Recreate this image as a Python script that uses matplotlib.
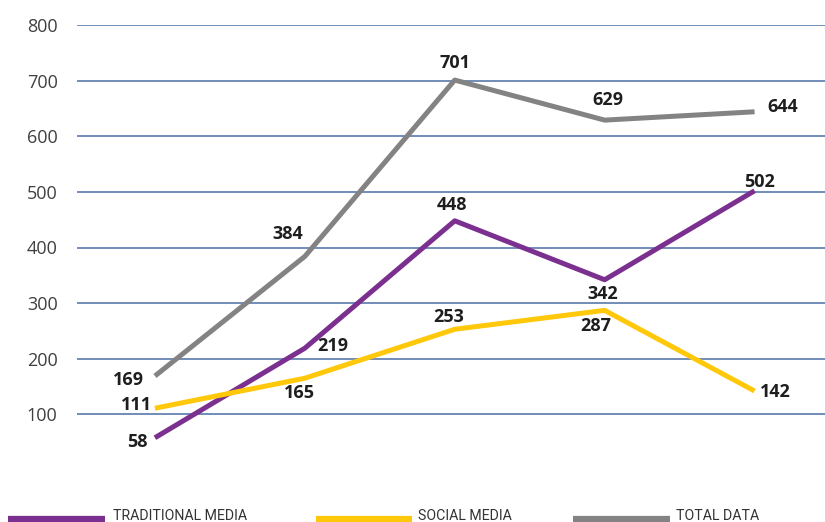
import numpy as np
import matplotlib.pyplot as plt
from matplotlib.lines import Line2D

categories = ['1', '2', '3', '4', '5']
traditional = [58, 219, 448, 342, 502]
social = [111, 165, 253, 287, 142]
total = [169, 384, 701, 629, 644]
yticks = [100, 200, 300, 400, 500, 600, 700, 800]

PURPLE = '#7b2f8f'
YELLOW = '#ffc80a'
GREY = '#838383'

# label offsets in pixels (dx, dy) per point
off_total = [(-27, -4), (-17, 22), (0, 17), (3, 20), (28, 5)]
off_trad = [(-18, -4), (28, 2), (-3, 16), (-2, -14), (5, 9)]
off_social = [(-18, 3), (-5, -15), (-6, 12), (-9, -16), (21, -1)]

fig = plt.figure(figsize=(8.25, 5.22), dpi=100)
ax = fig.add_axes([77 / 825, 1 - 470 / 522, 1 - 77 / 825, 445 / 522])

x = np.arange(len(categories))
series = [(total, GREY, off_total), (traditional, PURPLE, off_trad), (social, YELLOW, off_social)]
for vals, col, offs in series:
    ax.plot(x, vals, color=col, lw=3.6, solid_capstyle='butt', zorder=3)
for vals, col, offs in series:
    for xi, v, (dx, dy) in zip(x, vals, offs):
        ax.annotate(str(v), (xi, v), xytext=(dx, dy), textcoords='offset pixels',
                    ha='center', va='center', fontsize=13, fontweight='bold',
                    color='#1e1e1e', family='Open Sans', annotation_clip=False, zorder=5)

ax.set_xlim(-0.52, 4.47)
ax.set_ylim(0, 800)
ax.set_yticks(yticks)
ax.set_xticks([])
ax.yaxis.grid(True, color='#4a6ea6', lw=1.1)
ax.set_axisbelow(True)
for s in ax.spines.values():
    s.set_visible(False)
ax.tick_params(axis='y', length=0, pad=14, labelsize=13, labelcolor='#404040')
for lab in ax.get_yticklabels():
    lab.set_family('Open Sans')

# legend along the bottom
leg = [('TRADITIONAL MEDIA', PURPLE, 8, 105, 113),
       ('SOCIAL MEDIA', YELLOW, 316, 412, 418),
       ('TOTAL DATA', GREY, 573, 670, 676)]
for name, col, x0, x1, xt in leg:
    fig.add_artist(Line2D([x0 / 825, x1 / 825], [1 - 519 / 522] * 2, color=col, lw=4.5,
                          solid_capstyle='butt', transform=fig.transFigure))
    fig.text(xt / 825, 1 - 520.5 / 522, name, ha='left', va='baseline', fontsize=10.2,
             color='#333333', family=['Liberation Sans Narrow', 'Roboto'])

fig.savefig('out.png', dpi=100)
